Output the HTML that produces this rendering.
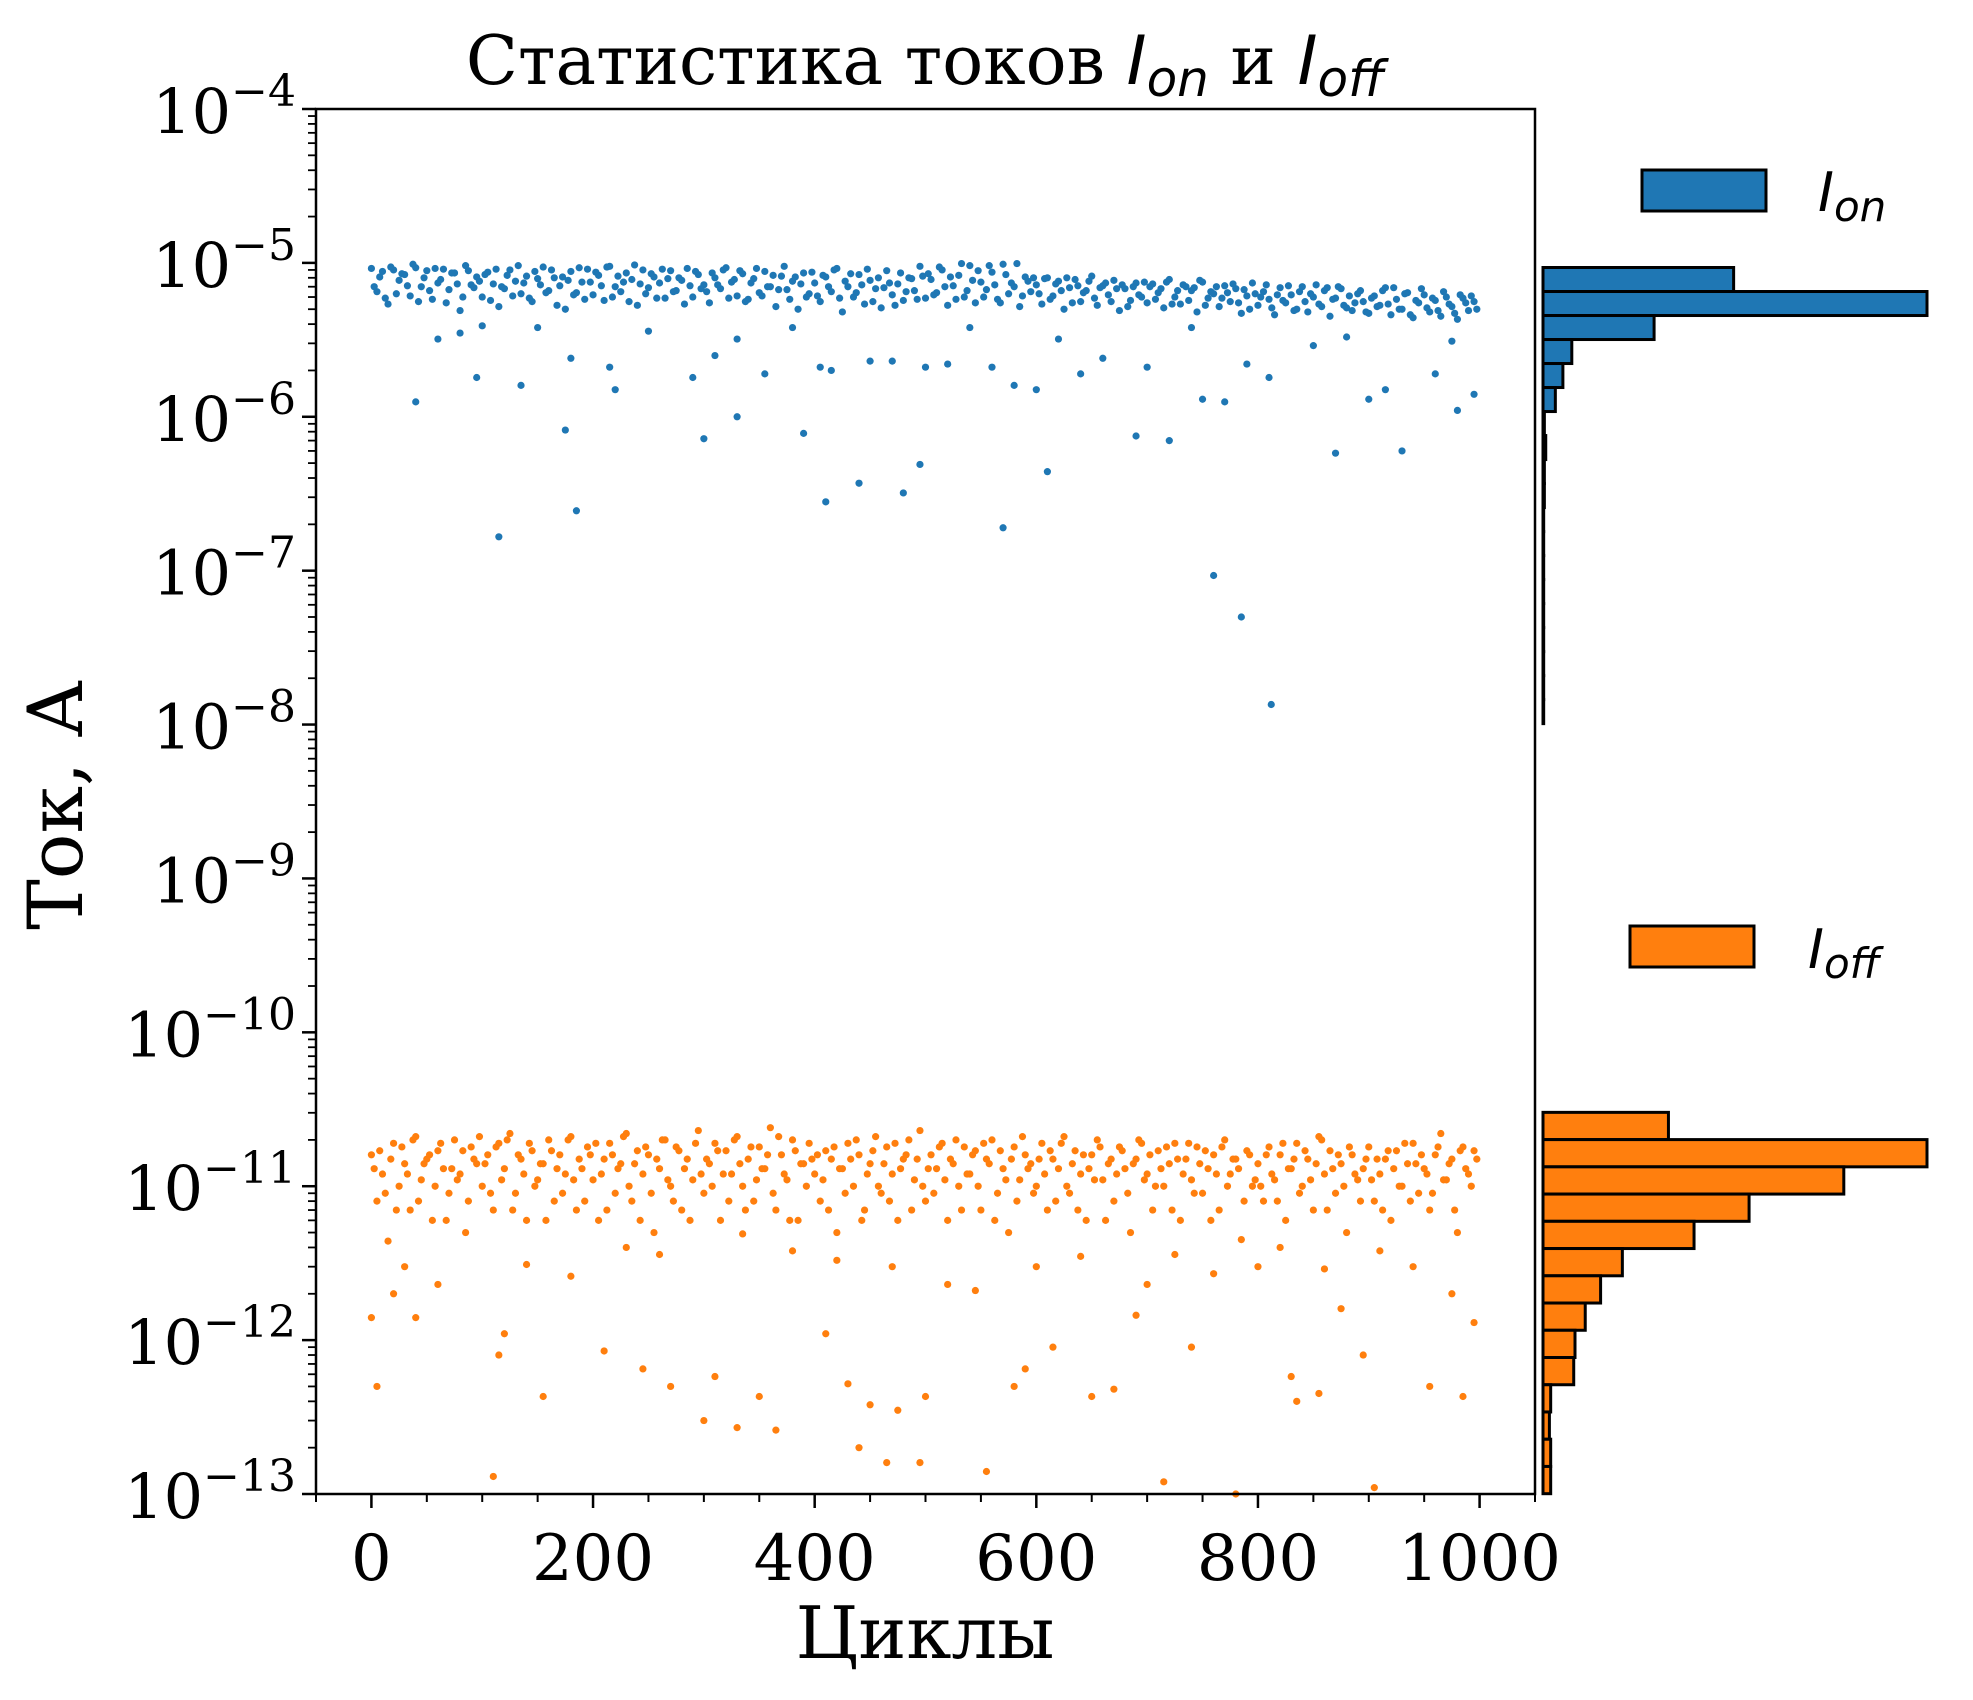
<!DOCTYPE html>
<html><head><meta charset="utf-8">
<style>
html,body{margin:0;padding:0;background:#fff;}
svg{display:block;}
text{font-family:"DejaVu Serif","Liberation Serif",serif;fill:#000;}
.it{font-family:"DejaVu Sans","Liberation Sans",sans-serif;font-style:italic;}
</style></head>
<body>
<svg id="chart" width="1973" height="1700" viewBox="0 0 1973 1700" xmlns="http://www.w3.org/2000/svg">
<text x="925" y="84" font-size="68" text-anchor="middle">Статистика токов <tspan class="it">I</tspan><tspan class="it" font-size="50" dy="12">on</tspan><tspan dy="-12"> и </tspan><tspan class="it">I</tspan><tspan class="it" font-size="50" dy="12">off</tspan></text>
<g id="scatter"></g>
<g id="hist"></g>
<g id="axes"></g>
<text x="925" y="1658" font-size="72" text-anchor="middle">Циклы</text>
<text x="0" y="0" font-size="76" text-anchor="middle" transform="translate(82,805) rotate(-90)">Ток, А</text>
<g>
<rect x="1642" y="170" width="124" height="41" fill="#1f77b4" stroke="#000" stroke-width="3"/>
<text x="1818" y="211" font-size="54" class="it">I<tspan font-size="42" dy="10">on</tspan></text>
</g>
<g>
<rect x="1630" y="926" width="124" height="41" fill="#ff7f0e" stroke="#000" stroke-width="3"/>
<text x="1808" y="968" font-size="54" class="it">I<tspan font-size="42" dy="10">off</tspan></text>
</g>
</svg>
<script>
// ---- data ----
const ionMain = [9.2,6.5,8.8,5.4,9.0,7.7,8.4,6.1,9.3,7.0,8.9,5.8,7.4,9.1,6.7,8.6,4.9,9.6,7.2,8.1,
6.0,8.7,7.3,5.2,6.8,9.0,7.6,6.3,8.2,5.6,7.9,9.4,6.6,8.0,7.1,5.0,8.8,6.4,7.5,9.1,
6.2,8.3,5.7,9.5,7.0,6.5,8.6,7.8,5.3,9.0,6.9,8.1,7.4,5.9,8.9,6.6,7.7,9.2,6.0,8.4,
7.2,5.5,8.0,6.8,9.3,7.5,6.1,8.5,5.8,7.9,6.4,8.8,7.0,5.2,8.2,6.7,7.6,5.0,8.6,6.3,
7.4,5.6,8.1,6.5,9.2,4.8,7.0,6.0,8.4,5.4,7.7,6.8,5.1,8.9,6.2,7.3,5.7,8.0,6.6,9.5,
5.9,7.8,6.4,9.0,5.3,7.1,8.3,6.0,9.6,5.5,7.5,6.7,8.7,5.8,9.8,6.3,7.0,5.2,8.1,6.5,
7.2,5.4,8.0,6.1,7.6,5.0,6.9,7.8,5.6,6.6,8.2,5.3,7.1,6.2,7.7,4.9,6.8,5.7,7.4,6.0,
5.5,7.3,6.4,5.1,7.8,6.0,5.4,7.0,6.6,4.8,7.5,5.9,6.3,5.2,7.1,5.6,6.8,4.7,6.1,7.4,
5.3,6.5,5.8,4.6,6.9,5.5,6.2,5.0,7.0,4.8,6.0,5.4,6.6,4.5,5.9,6.8,5.1,4.9,6.3,5.6,
4.7,6.1,5.3,6.9,4.6,5.8,5.0,6.4,4.4,5.5,6.2,4.8,5.7,4.5,6.0,5.2,4.3,5.9,4.9,5.6];
const ionMain2 = [7.0,8.1,5.9,9.4,6.3,8.5,7.1,9.8,5.6,8.0,6.6,9.2,7.8,5.5,8.6,7.3,6.0,8.9,6.9,7.6,
8.4,5.7,9.1,7.0,8.3,6.1,9.6,7.4,5.9,8.8,7.2,6.4,9.0,5.3,8.1,7.7,6.2,9.3,5.8,7.5,
8.7,7.1,9.4,6.0,8.2,7.5,5.6,9.7,7.3,6.3,8.5,5.9,9.1,7.9,6.5,8.0,5.4,7.1,8.8,6.8,
6.5,8.6,7.2,9.0,5.9,7.8,8.9,5.6,7.4,9.2,6.1,7.0,8.3,6.7,9.5,5.8,8.1,7.3,6.0,8.7,
6.1,8.3,7.0,9.0,5.9,7.6,8.5,6.4,7.2,9.1,5.6,8.0,6.9,7.4,5.3,8.6,6.5,7.9,5.8,8.2,
8.5,6.2,9.4,7.0,8.1,5.8,9.9,6.6,7.7,8.9,6.0,9.6,7.2,5.5,8.4,7.4,9.9,6.1,7.6,8.0,
6.3,7.9,5.8,7.3,6.6,8.0,5.5,7.1,6.4,7.6,5.9,6.9,7.4,5.6,6.8,7.2,5.2,7.0,6.2,7.5,
7.0,5.8,6.8,7.5,5.4,6.6,7.2,5.7,6.9,7.7,5.3,6.5,7.0,5.9,6.4,7.3,5.5,6.7,5.0,6.3,
6.0,7.2,5.1,6.2,5.7,7.1,4.9,6.5,5.6,6.3,7.2,5.2,6.9,5.8,7.0,5.3,6.1,5.5,6.6,4.8,
5.9,5.2,6.6,5.4,6.9,5.0,6.3,4.6,5.7,6.8,5.1,5.9,4.9,6.5,5.4,4.7,6.2,5.5,6.1,5.0];
const ionOutX = [40,115,175,185,300,330,390,410,440,480,495,570,610,690,720,760,785,812,870,930,95,135,180,215,220,290,310,355,405,415,450,470,500,520,560,580,600,640,700,750,770,790,810,900,915,960,980,995,60,80,100,150,250,330,380,540,620,660,740,850,880,975];
const ionOutV = [1.25,0.166,0.82,0.245,0.72,1.0,0.78,0.28,0.37,0.32,0.49,0.19,0.44,0.75,0.7,0.093,0.05,0.0135,0.58,0.6,1.8,1.6,2.4,2.1,1.5,1.8,2.5,1.9,2.1,2.0,2.3,2.3,2.1,2.2,2.1,1.6,1.5,1.9,2.1,1.3,1.25,2.2,1.8,1.3,1.5,1.9,1.1,1.4,3.2,3.5,3.9,3.8,3.6,3.2,3.8,3.8,3.2,2.4,3.8,2.9,3.3,3.1];
const ioffMain = [16,8,12,4.4,19,10,14,7,21,11,15,6,17,13,9,20,12,5,18,14,
10,16,7,19,13,22,9,15,6,17,11,14,20,8,16,12,21,7,13,18,
11,6,15,19,9,14,22,8,17,12,16,5,13,20,10,18,7,15,11,23,
9,14,19,6,17,12,21,10,15,8,18,13,24,7,16,11,20,6,14,19,
12,8,17,15,5,13,19,10,16,7,14,21,9,18,12,6,15,20,11,23,
8,16,13,19,6,14,10,18,12,17,7,15,20,9,13,5,18,11,16,14,
10,19,7,15,13,21,9,17,12,6,16,20,11,14,8,18,13,5,15,19,
12,7,17,10,14,19,6,15,11,18,9,13,16,7,20,12,15,4.5,17,10,
14,8,18,11,16,6,13,19,10,15,7,21,12,17,9,14,5,16,11,13,
18,8,12,15,6,17,10,14,19,9,13,7,16,22,11,15,5,18,12,17];
const ioffMain2 = [13,17,9,15,7,18,12,20,8,14,16,10,19,6,13,11,17,8,15,21,
14,9,18,11,20,7,16,12,19,10,14,6,17,13,9,20,11,15,8,16,
19,12,7,16,13,21,10,14,6,18,9,15,20,11,8,17,13,6,19,12,
15,10,17,12,8,20,14,7,18,11,13,16,9,21,12,6,17,14,10,15,
16,11,7,18,13,9,15,20,6,12,17,10,14,8,19,13,16,7,15,10,
13,9,18,11,15,20,7,12,16,10,19,14,6,17,11,15,8,21,13,9,
15,12,17,8,19,10,14,7,16,13,11,18,6,15,12,17,9,14,20,11,
16,10,13,18,7,15,12,19,9,14,17,6,12,18,10,15,13,8,16,11,
10,16,12,8,19,13,15,9,17,11,14,20,7,13,16,10,18,12,8,15,
11,15,7,17,13,10,19,8,14,16,12,9,18,11,14,7,17,13,10,15];
const ioffOutX = [0,5,20,40,110,115,120,155,210,245,270,300,310,330,350,365,410,430,440,450,465,475,495,500,555,580,590,615,650,670,690,715,740,780,830,835,855,875,895,905,955,985,995,30,60,140,180,230,260,335,380,420,470,520,545,600,640,700,725,760,800,820,860,910,940,975];
const ioffOutV = [1.4,0.5,2.0,1.4,0.13,0.8,1.1,0.43,0.85,0.65,0.5,0.3,0.58,0.27,0.43,0.26,1.1,0.52,0.2,0.38,0.16,0.35,0.16,0.43,0.14,0.5,0.65,0.9,0.43,0.48,1.45,0.12,0.9,0.1,0.58,0.4,0.45,1.6,0.8,0.11,0.5,0.43,1.3,3,2.3,3.1,2.6,4,3.6,4.9,3.8,3.3,3,2.3,2.1,3,3.5,2.3,3.6,2.7,3,4,2.9,3.8,3,2];
const ionHistCounts = [278,560,162,42,29,18,2,4,2,2,1,1,1,1,1,1,1,1,1];
const ionHistTopLog = -5.03;
const ionHistBinW = 0.156;
const ioffHistCounts = [98,300,235,161,118,62,45,33,25,24,6,5,6,6];
const ioffHistTopLog = -10.52;
const ioffHistBinW = 0.177;
const xTicks = [0,200,400,600,800,1000];
const yTickExps = [-4,-5,-6,-7,-8,-9,-10,-11,-12,-13];

// ---- axes geometry ----
const L=316,R=1535,T=109,B=1494,X0=-50,X1=1050,LOGTOP=-4,LOGBOT=-13;
const HL=1543,HR=1927;
const NS='http://www.w3.org/2000/svg';
function xs(v){return L+(v-X0)/(X1-X0)*(R-L);}
function ysLog(lg){return T+(LOGTOP-lg)/(LOGTOP-LOGBOT)*(B-T);}
function ys(v){return ysLog(Math.log10(v));}
function mk(tag,attrs,parent){const e=document.createElementNS(NS,tag);for(const k in attrs)e.setAttribute(k,attrs[k]);parent.appendChild(e);return e;}

const sc=document.getElementById('scatter');
function dots(xArr,vArr,unit,color,name){
  for(let i=0;i<vArr.length;i++){
    const c=mk('circle',{cx:xs(xArr[i]),cy:ys(vArr[i]*unit),r:3.6,fill:color},sc);
    
    
  }
}
const mainX=ionMain.map((_,i)=>i*5);
const mainX2=ionMain2.map((_,i)=>i*5+2.5);
dots(mainX,ionMain,1e-6,'#1f77b4','ion-point');
dots(mainX2,ionMain2,1e-6,'#1f77b4','ion-point');
dots(ionOutX,ionOutV,1e-6,'#1f77b4','ion-point');
dots(mainX,ioffMain,1e-12,'#ff7f0e','ioff-point');
dots(mainX2,ioffMain2,1e-12,'#ff7f0e','ioff-point');
dots(ioffOutX,ioffOutV,1e-12,'#ff7f0e','ioff-point');

const hg=document.getElementById('hist');
function hist(counts,topLog,bw,color,name){
  const mx=Math.max(...counts);
  for(let i=0;i<counts.length;i++){
    const y1=ysLog(topLog-i*bw), y2=ysLog(topLog-(i+1)*bw);
    const w=counts[i]/mx*(HR-HL);
    const r=mk('rect',{x:HL,y:y1,width:Math.max(w,0.5),height:y2-y1,fill:color,stroke:'#000','stroke-width':3},hg);
    
    
  }
}
hist(ionHistCounts,ionHistTopLog,ionHistBinW,'#1f77b4','ion-hist-bar');
hist(ioffHistCounts,ioffHistTopLog,ioffHistBinW,'#ff7f0e','ioff-hist-bar');

const ax=document.getElementById('axes');
const frame=mk('rect',{x:L,y:T,width:R-L,height:B-T,fill:'none',stroke:'#000','stroke-width':2.5},ax);


for(let v=-50;v<=1050;v+=50){
  if(v%200===0) continue;
  mk('line',{x1:xs(v),y1:B,x2:xs(v),y2:B+8,stroke:'#000','stroke-width':2},ax);
}
xTicks.forEach(v=>{
  mk('line',{x1:xs(v),y1:B,x2:xs(v),y2:B+14,stroke:'#000','stroke-width':2.5},ax);
  const t=mk('text',{x:xs(v),y:1580,'font-size':64,'text-anchor':'middle'},ax);
  t.textContent=v;
  
  
});
yTickExps.forEach(e=>{
  const y=ysLog(e);
  mk('line',{x1:L-14,y1:y,x2:L,y2:y,stroke:'#000','stroke-width':2.5},ax);
  if(e>LOGBOT){for(let m=2;m<10;m++){const yy=ysLog(e-1+Math.log10(m));mk('line',{x1:L-8,y1:yy,x2:L,y2:yy,stroke:'#000','stroke-width':1.8},ax);}}
  const t=mk('text',{x:L-20,y:y+24,'font-size':62,'text-anchor':'end'},ax);
  
  
  const a=document.createElementNS(NS,'tspan');a.textContent='10';t.appendChild(a);
  const b=document.createElementNS(NS,'tspan');b.setAttribute('font-size','44');b.setAttribute('dy','-27');b.textContent='−'+Math.abs(e);t.appendChild(b);
});
</script>
</body></html>
